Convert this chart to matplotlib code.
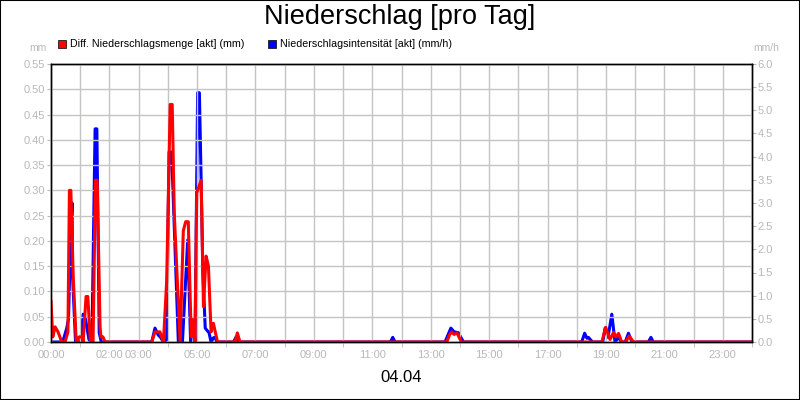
import matplotlib
matplotlib.use("Agg")
import matplotlib.pyplot as plt
from matplotlib.patches import Rectangle

plt.rcParams['font.family'] = ['Liberation Sans', 'DejaVu Sans']

title = "Niederschlag [pro Tag]"
date_label = "04.04"
red_name = "Diff. Niederschlagsmenge [akt] (mm)"
blue_name = "Niederschlagsintensität [akt] (mm/h)"

# Diff. Niederschlagsmenge (mm), hours since 00:00
red_t = [0.00, 0.06, 0.14, 0.24, 0.37, 0.48, 0.58, 0.63, 0.68, 0.76, 0.86, 0.89,
         0.96, 1.06, 1.10, 1.20, 1.26, 1.35, 1.44, 1.52, 1.58, 1.68, 1.71, 1.78,
         1.85, 3.45, 3.56, 3.73, 3.85, 3.96, 4.08, 4.15, 4.22, 4.42, 4.53, 4.61,
         4.70, 4.80, 4.85, 4.93, 4.99, 5.14, 5.22, 5.31, 5.39, 5.48, 5.56, 5.70,
         6.30, 6.38, 6.47, 13.55, 13.65, 13.72, 13.80, 13.90, 14.05, 18.86, 18.99,
         19.14, 19.26, 19.34, 19.43, 19.54, 19.68, 19.79, 19.94, 24.00]
red_v = [0.080, 0.010, 0.030, 0.020, 0.000, 0.000, 0.020, 0.300, 0.300, 0.130, 0.005, 0.000,
         0.010, 0.010, 0.000, 0.090, 0.090, 0.000, 0.000, 0.320, 0.320, 0.030, 0.010, 0.010,
         0.000, 0.000, 0.020, 0.020, 0.000, 0.120, 0.470, 0.470, 0.255, 0.000, 0.220, 0.238,
         0.238, 0.010, 0.044, 0.000, 0.295, 0.320, 0.070, 0.170, 0.150, 0.020, 0.037, 0.000,
         0.000, 0.018, 0.000, 0.000, 0.015, 0.020, 0.015, 0.018, 0.000, 0.000, 0.029,
         0.005, 0.019, 0.010, 0.017, 0.000, 0.000, 0.012, 0.000, 0.000]

# Niederschlagsintensität (mm/h)
blue_t = [0.00, 0.40, 0.54, 0.60, 0.66, 0.72, 0.74, 0.84, 1.02, 1.10, 1.18, 1.30,
          1.40, 1.51, 1.57, 1.65, 1.72, 3.45, 3.56, 3.67, 3.75, 3.85, 3.96, 4.04,
          4.13, 4.36, 4.50, 4.68, 4.78, 4.87, 4.93, 5.02, 5.08, 5.14, 5.20, 5.28,
          5.33, 5.41, 5.48, 5.56, 5.62, 5.68, 6.25, 6.33, 6.42, 11.62, 11.70, 11.78,
          13.49, 13.69, 13.80, 13.95, 14.12, 18.17, 18.27, 18.35, 18.40, 18.54, 18.89,
          18.97, 19.07, 19.20, 19.31, 19.43, 19.53, 19.66, 19.77, 19.89, 20.45, 20.54,
          20.62, 24.00]
blue_v = [0.00, 0.00, 0.30, 0.50, 2.00, 3.00, 1.40, 0.00, 0.00, 0.60, 0.50, 0.05,
          0.00, 4.60, 4.60, 0.20, 0.00, 0.00, 0.30, 0.15, 0.10, 0.00, 0.05, 4.10,
          4.10, 0.00, 0.00, 2.20, 0.00, 0.47, 0.00, 5.38, 5.38, 3.50, 1.50, 0.30,
          0.26, 0.20, 0.00, 0.09, 0.10, 0.00, 0.00, 0.10, 0.00, 0.00, 0.10, 0.00,
          0.00, 0.30, 0.22, 0.20, 0.00, 0.00, 0.19, 0.08, 0.10, 0.00, 0.00,
          0.30, 0.10, 0.60, 0.00, 0.10, 0.00, 0.00, 0.19, 0.00, 0.00, 0.10,
          0.00, 0.00]

x_label_hours = [0, 2, 3, 5, 7, 9, 11, 13, 15, 17, 19, 21, 23]
x_mark_hours = [1, 4, 6, 8, 10, 12, 14, 16, 18, 20, 22, 24]
left_ticks = [i * 0.05 for i in range(12)]
right_ticks = [i * 0.5 for i in range(13)]

grey = '#b8b8b8'
grid_c = '#c4c4c4'

fig = plt.figure(figsize=(8, 4), dpi=100)
fig.patch.set_facecolor('white')
fig.patches.append(Rectangle((0, 0), 1, 1, transform=fig.transFigure, fill=False,
                             ec='black', lw=1.5))

ax = fig.add_axes([51 / 800, 1 - 342 / 400, 701 / 800, 278 / 400])
ax2 = ax.twinx()
ax.set_zorder(ax2.get_zorder() + 1)
ax.patch.set_visible(False)

ax2.plot(blue_t, blue_v, color='#0000ff', lw=2.2)
ax.plot(red_t, red_v, color='#ff0000', lw=2.2)

ax.set_xlim(0, 24)
ax.set_ylim(0, 0.55)
ax2.set_ylim(0, 6)

ax.set_xticks(x_label_hours)
ax.set_xticklabels(['%02d:00' % h for h in x_label_hours])
ax.set_xticks(x_mark_hours, minor=True)
ax.tick_params(axis='x', which='major', length=0, pad=6, labelsize=8, labelcolor=grey)
ax.tick_params(axis='x', which='minor', length=3.5, color=grey, direction='out')
ax.grid(True, axis='x', which='both', color=grid_c, lw=1)

ax.set_yticks(left_ticks)
ax.set_yticklabels(['%.2f' % v for v in left_ticks])
ax.tick_params(axis='y', length=3, pad=1, color=grey, labelsize=8, labelcolor=grey)
ax.grid(True, axis='y', color=grid_c, lw=1)

ax2.set_yticks(right_ticks)
ax2.set_yticklabels(['%.1f' % v for v in right_ticks])
ax2.tick_params(axis='y', length=3, pad=1, color=grey, labelsize=8, labelcolor=grey)

for a in (ax, ax2):
    for s in a.spines.values():
        s.set_color('black')
        s.set_linewidth(1)

fig.text(0.5, 1 - 17 / 400, title, ha='center', va='center', fontsize=19.5)
fig.text(401 / 800, 1 - 378 / 400, date_label, ha='center', va='center', fontsize=12)
fig.text(47 / 800, 1 - 48 / 400, 'mm', ha='right', va='center', fontsize=7.5, color=grey)
fig.text(753 / 800, 1 - 48 / 400, 'mm/h', ha='left', va='center', fontsize=7.5, color=grey)

for x0, c, name in [(58, '#ff0000', red_name), (268, '#0000ff', blue_name)]:
    fig.patches.append(Rectangle((x0 / 800, 1 - 48 / 400), 8 / 800, 8 / 400,
                                 transform=fig.transFigure, fc=c, ec='black', lw=0.5))
    fig.text((x0 + 12) / 800, 1 - 44 / 400, name, ha='left', va='center', fontsize=7.7)

fig.savefig('out.png', dpi=100)
